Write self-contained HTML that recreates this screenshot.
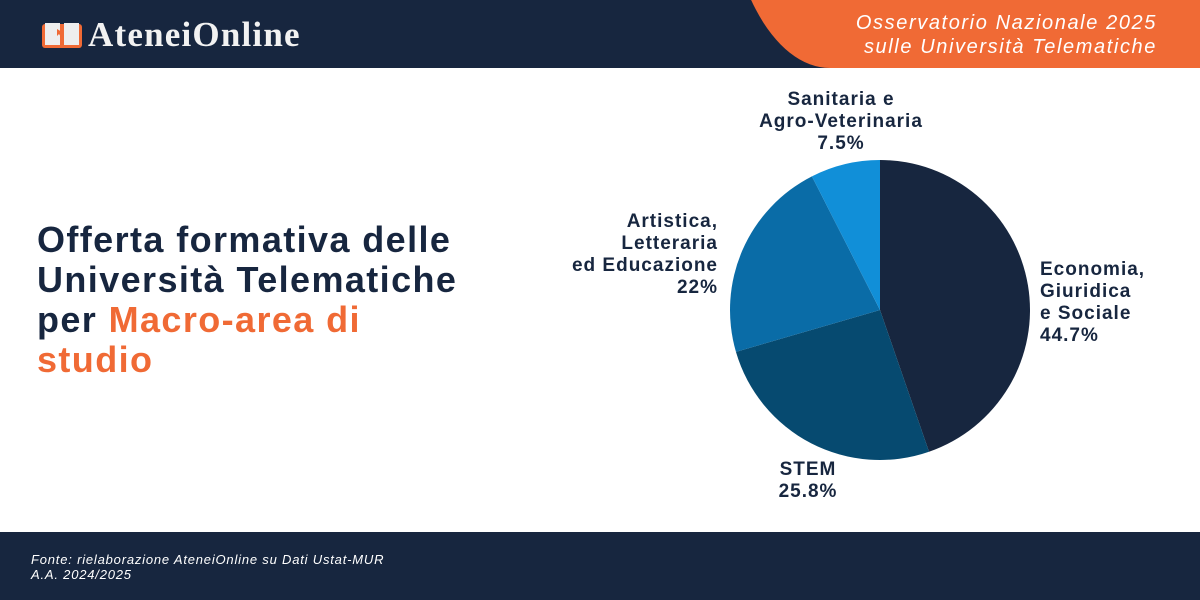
<!DOCTYPE html>
<html><head><meta charset="utf-8"><style>
body{margin:0;width:1200px;height:600px;overflow:hidden;background:#fff;font-family:"Liberation Sans",sans-serif;position:relative}
#header{position:absolute;left:0;top:0;width:1200px;height:68px;background:#17263f;overflow:hidden}
#orange{position:absolute;left:725px;top:-140px;width:700px;height:208px;background:#f06a35;border-bottom-left-radius:105px 200px}
#logo{position:absolute;left:42px;top:15px;color:#f2f2f2;font-family:"Liberation Serif",serif;font-size:35px;font-weight:bold;letter-spacing:1.2px;display:flex;align-items:center}
#obs{position:absolute;right:43px;top:11px;color:#fff;font-style:italic;font-size:20px;letter-spacing:1.6px;line-height:24px;text-align:right}
#title{position:absolute;left:37px;top:220px;font-size:36px;letter-spacing:1.4px;font-weight:bold;line-height:40px;color:#17263f}
#title span{color:#f06a35}
#footer{position:absolute;left:0;top:532px;width:1200px;height:68px;background:#17263f;color:#fff;font-style:italic;font-size:13px;letter-spacing:0.8px;line-height:15px}
#footer div{position:absolute;left:31px;top:20px}
.lbl{font-weight:bold;font-size:19px;letter-spacing:1px;fill:#17263f}
</style></head><body>
<div id="header">
<div id="orange"></div>
<div id="logo"><svg width="40" height="30" viewBox="0 0 40 30"><rect x="0" y="4" width="40" height="24" rx="3" fill="#f06a35"/><path d="M3 3h15v22H3z M22 3h15v22H22z" fill="#eee"/><path d="M15 9l5 3-2 1 2 3-1 1-2-3-2 2z" fill="#f06a35"/></svg><span style="margin-left:6px">AteneiOnline</span></div>
<div id="obs">Osservatorio Nazionale 2025<br>sulle Università Telematiche</div>
</div>
<div id="title">Offerta formativa delle<br>Università Telematiche<br>per <span>Macro-area di<br>studio</span></div>
<svg id="chart" width="1200" height="600" style="position:absolute;left:0;top:0"></svg>
<div id="footer"><div>Fonte: rielaborazione AteneiOnline su Dati Ustat-MUR<br>A.A. 2024/2025</div></div>
<script>
const categories=["Economia, Giuridica e Sociale","STEM","Artistica, Letteraria ed Educazione","Sanitaria e Agro-Veterinaria"];
const values=[44.7,25.8,22,7.5];
const valueLabels=["44.7%","25.8%","22%","7.5%"];
const colors=["#17263f","#064a70","#0a6ca7","#118fd8"];
const svg=document.getElementById('chart');const NS="http://www.w3.org/2000/svg";
const cx=880,cy=310,r=150;const total=values.reduce((a,b)=>a+b,0);
let a0=-Math.PI/2;
function pt(a,rr){return [cx+rr*Math.cos(a),cy+rr*Math.sin(a)];}
values.forEach((v,i)=>{const a1=a0+v/total*2*Math.PI;const p0=pt(a0,r),p1=pt(a1,r);
const p=document.createElementNS(NS,'path');
p.setAttribute('d',`M${cx},${cy}L${p0[0]},${p0[1]}A${r},${r} 0 ${a1-a0>Math.PI?1:0} 1 ${p1[0]},${p1[1]}Z`);
p.setAttribute('fill',colors[i]);


svg.appendChild(p);a0=a1;});
const labels=[{x:1040,y:275,a:"start",lines:["Economia,","Giuridica","e Sociale"]},{x:808,y:475,a:"middle",lines:["STEM"]},{x:718,y:227,a:"end",lines:["Artistica,","Letteraria","ed Educazione"]},{x:841,y:105,a:"middle",lines:["Sanitaria e","Agro-Veterinaria"]}];
labels.forEach((l,i)=>{const t=document.createElementNS(NS,'text');t.setAttribute('class','lbl');t.setAttribute('text-anchor',l.a);


l.lines.concat([valueLabels[i]]).forEach((s,k)=>{const ts=document.createElementNS(NS,'tspan');ts.setAttribute('x',l.x);ts.setAttribute('y',l.y+k*22);ts.textContent=s;t.appendChild(ts);});
svg.appendChild(t);});
</script>
</body></html>
